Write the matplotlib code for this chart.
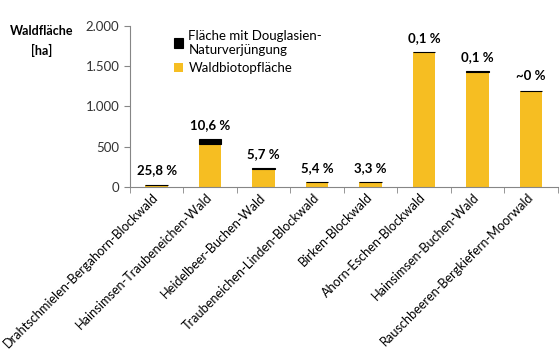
import matplotlib.pyplot as plt
import numpy as np

plt.rcParams['font.family'] = ['Lato', 'DejaVu Sans']

categories = [
    'Drahtschmielen-Bergahorn-Blockwald',
    'Hainsimsen-Traubeneichen-Wald',
    'Heidelbeer-Buchen-Wald',
    'Traubeneichen-Linden-Blockwald',
    'Birken-Blockwald',
    'Ahorn-Eschen-Blockwald',
    'Hainsimsen-Buchen-Wald',
    'Rauschbeeren-Bergkiefern-Moorwald',
]
# Waldbiotopfläche (ha) and Fläche mit Douglasien-Naturverjüngung (ha)
biotop = [19, 530, 219, 58, 57, 1670, 1425, 1193]
douglas = [6, 63, 13, 3, 2, 2, 12, 1]
pct_labels = ['25,8 %', '10,6 %', '5,7 %', '5,4 %', '3,3 %', '0,1 %', '0,1 %', '~0 %']

yellow = '#F6BE22'
grey = '#868686'

fig = plt.figure(figsize=(5.6, 3.54), dpi=100)
ax = fig.add_axes([0.232, 0.472, 0.764, 0.455])

x = np.arange(len(categories))
w = 0.42
ax.bar(x, biotop, w, color=yellow, label='Waldbiotopfläche', zorder=2)
ax.bar(x, douglas, w, bottom=biotop, color='black', edgecolor='black',
       linewidth=0.8, label='Fläche mit Douglasien-\nNaturverjüngung', zorder=3)

for xi, b, d, t in zip(x, biotop, douglas, pct_labels):
    ax.annotate(t, (xi, b + d), xytext=(0, 6), textcoords='offset points',
                ha='center', va='bottom', fontsize=9.5, fontweight='bold')

ax.set_xlim(-0.5, len(categories) - 0.5)
ax.set_ylim(0, 2000)
ax.set_yticks([0, 500, 1000, 1500, 2000])
ax.set_yticklabels(['0', '500', '1.000', '1.500', '2.000'])
ax.set_xticks(x)
ax.set_xticklabels(categories, rotation=45, ha='right', va='center',
                   rotation_mode='anchor', fontsize=9.2)
ax.set_xticks(np.arange(-0.5, len(categories)), minor=True)
ax.tick_params(axis='x', which='major', length=0, pad=6)
ax.tick_params(axis='x', which='minor', length=4, color=grey, direction='out')
ax.tick_params(axis='y', length=4, color=grey, labelsize=9.5)
for lbl in ax.get_yticklabels():
    lbl.set_color('#333333')
ax.spines[['top', 'right']].set_visible(False)
ax.spines[['left', 'bottom']].set_color(grey)

fig.text(0.075, 0.885, 'Waldfläche\n[ha]', ha='center', va='center',
         fontsize=9, fontweight='bold', linespacing=1.6)

handles, labels = ax.get_legend_handles_labels()
ax.legend(handles[::-1], labels[::-1], loc='upper left', bbox_to_anchor=(0.075, 1.05),
          frameon=False, fontsize=9.5, handlelength=0.7, handleheight=0.7,
          handletextpad=0.4, labelspacing=0.5)

fig.savefig('out.png', dpi=100)
